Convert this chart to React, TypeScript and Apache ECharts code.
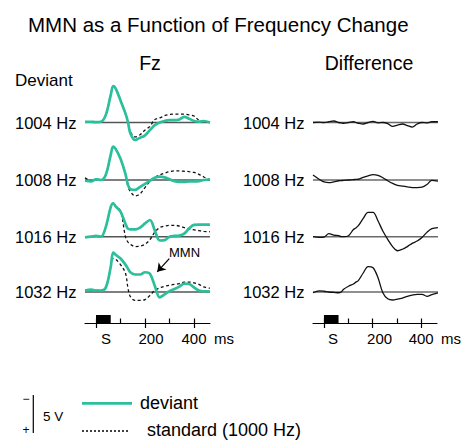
import React, { useEffect, useRef } from "react";
import * as echarts from "echarts";

// ---------- data (µV; negative plotted upward) ----------
const TIME = [-45, -20, 0, 20, 40, 60, 70, 80, 100, 120, 130, 140, 160, 180, 200, 220, 240, 260, 280, 300, 320, 340, 360, 380, 400, 420, 440, 465];

const ROW_LABELS = ["1004 Hz", "1008 Hz", "1016 Hz", "1032 Hz"];

const dev1004 = [-0.1, -0.1, -0.05, -0.1, -1.0, -3.6, -4.8, -4.5, -2.9, -1.2, -0.1, 1.4, 2.3, 2.0, 1.7, 1.0, 0.35, 0, -0.2, -0.3, -0.3, -0.4, -0.75, -0.5, -0.2, -0.1, -0.2, 0];
const std1004 = [-0.1, -0.1, -0.05, -0.1, -1.0, -3.6, -4.8, -4.5, -2.9, -1.2, -0.1, 1.2, 1.9, 1.6, 1.0, 0.5, -0.4, -0.6, -0.9, -1.05, -1.1, -1.1, -1.1, -1.0, -0.85, -0.3, -0.15, 0];

const dev1008 = [0.1, 0.2, -0.1, 0.0, -0.7, -3.3, -4.4, -4.1, -2.8, -0.8, 0.6, 1.2, 1.3, 0.9, 0.5, 0.1, -0.3, -0.45, -0.35, -0.1, 0.15, 0.25, 0.25, 0.2, 0.2, 0.15, 0.0, -0.1];
const std1008 = [-0.3, 0.1, -0.1, 0.0, -0.7, -3.3, -4.4, -4.1, -2.8, -0.8, 0.8, 1.5, 2.1, 1.8, 1.0, 0.2, -0.35, -0.66, -0.9, -1.1, -1.2, -1.2, -1.15, -1.1, -1.0, -0.75, -0.4, 0];

const dev1016 = [0.1, 0.0, -0.1, 0.0, -1.3, -3.9, -4.4, -4.0, -3.3, -1.7, -1.05, -0.96, -0.96, -1.2, -1.75, -2.2, -0.8, 0.5, 0.45, 0.0, -0.1, -0.15, -0.4, -1.1, -1.55, -1.6, -1.6, -1.6];
const std1016 = [0.1, 0.0, -0.1, 0.0, -1.3, -3.9, -4.4, -4.0, -3.4, 0.0, 0.7, 1.0, 1.3, 1.25, 1.0, 0.4, -0.6, -1.2, -1.4, -1.5, -1.5, -1.4, -1.2, -1.0, -0.9, -0.8, -0.7, -0.65];

const dev1032 = [-0.2, -0.3, -0.2, -0.2, -0.6, -3.3, -5.2, -4.9, -4.4, -3.6, -3.1, -2.6, -2.3, -2.3, -2.6, -2.4, -0.8, 0.7, 0.3, -0.1, -0.4, -0.7, -1.1, -1.05, -0.6, -0.2, -0.1, -0.1];
const std1032 = [-0.2, -0.3, -0.2, -0.2, -0.6, -3.4, -4.4, -4.3, -3.6, -2.5, -0.6, 0.6, 1.1, 1.1, 1.0, 0.45, -0.2, -0.55, -0.75, -0.9, -1.0, -1.1, -1.3, -1.3, -1.2, -1.0, -0.66, -0.5];

const diff1004 = [0, -0.05, 0, -0.1, -0.2, 0, 0.05, 0.1, 0, -0.1, 0, 0.1, 0.2, 0, -0.15, 0.05, 0, 0.15, 0.5, 0.35, 0.2, 0.4, 0.6, 0.2, 0.0, 0.05, -0.1, -0.1];
const diff1008 = [-0.65, -0.1, 0.25, 0.35, 0.25, 0.1, 0.08, 0.05, 0, -0.05, -0.08, -0.1, -0.35, -0.55, -0.7, -0.6, -0.3, 0.1, 0.45, 0.7, 0.8, 0.9, 1.0, 1.0, 0.95, 0.6, 0.05, 0.15];
const diff1016 = [0, 0.1, 0.05, -0.4, -0.2, -0.15, 0.0, 0.0, -0.13, -0.95, -1.15, -1.45, -2.4, -3.2, -3.2, -2.1, -0.75, 0.35, 1.3, 1.85, 1.65, 1.3, 0.88, 0.57, 0.1, -0.57, -1.05, -1.2];
const diff1032 = [0.1, -0.15, -0.1, 0, 0.05, 0.1, 0, -0.35, -0.75, -1.05, -1.3, -1.5, -2.5, -3.35, -3.2, -1.9, 0.1, 0.9, 1.05, 0.95, 0.8, 0.57, 0.4, 0.3, 0.3, 0.57, 0.35, 0.1];

const DEVIANT = [dev1004, dev1008, dev1016, dev1032];
const STANDARD = [std1004, std1008, std1016, std1032];
const DIFFERENCE = [diff1004, diff1008, diff1016, diff1032];

const MAJOR_TICKS = [0, 200, 400];
const ALL_TICKS = [0, 100, 200, 300, 400];
const STIMULUS = [0, 60]; // ms
const SCALE_UV = 5;
const MMN_ARROW_FROM = [299, -4.4];
const MMN_ARROW_TO = [250, -2.65];

// ---------- layout ----------
const W = 462;
const H = 440;
const FONT = "'Liberation Sans', Arial, Helvetica, sans-serif";
const T_MIN = -45;
const T_MAX = 465;
const PX_PER_MS = 0.245;
const PX_PER_UV = 7.6;
const Y_MIN = -6;
const Y_MAX = 4;
const ROW_BASE = [122.5, 180, 236.7, 292];
const PANEL_X0 = [85, 313];
const AXIS_Y = 323;
const GREEN = "#2cbf9b";

function buildOption() {
  const grids: any[] = [];
  const xAxes: any[] = [];
  const yAxes: any[] = [];
  const series: any[] = [];
  const plotW = (T_MAX - T_MIN) * PX_PER_MS;
  const plotH = (Y_MAX - Y_MIN) * PX_PER_UV;

  const toPairs = (arr: number[]) => TIME.map((t, k) => [t, arr[k]]);

  for (let p = 0; p < 2; p++) {
    for (let r = 0; r < 4; r++) {
      const gi = grids.length;
      grids.push({ left: PANEL_X0[p], top: ROW_BASE[r] + Y_MIN * PX_PER_UV, width: plotW, height: plotH });
      xAxes.push({ gridIndex: gi, type: "value", min: T_MIN, max: T_MAX, show: false });
      yAxes.push({ gridIndex: gi, type: "value", min: Y_MIN, max: Y_MAX, inverse: true, show: false });
      series.push({
        type: "line", xAxisIndex: gi, yAxisIndex: gi, silent: true, symbol: "none",
        data: [[T_MIN, 0], [T_MAX, 0]],
        lineStyle: { color: p === 0 ? "#555" : "#6a6a6a", width: 1.6 },
      });
      if (p === 0) {
        series.push({
          type: "line", xAxisIndex: gi, yAxisIndex: gi, silent: true, symbol: "none", smooth: 0.35,
          data: toPairs(STANDARD[r]),
          lineStyle: { color: "#111", width: 1.3, type: [3, 2.5] },
          z: 3,
        });
        const dev: any = {
          type: "line", xAxisIndex: gi, yAxisIndex: gi, silent: true, symbol: "none", smooth: 0.35,
          data: toPairs(DEVIANT[r]),
          lineStyle: { color: GREEN, width: 2.7 },
          z: 4,
        };
        if (r === 3) {
          dev.markLine = {
            silent: true, symbol: ["none", "arrow"], symbolSize: 8,
            label: { show: false },
            lineStyle: { color: "#000", width: 1.2, type: "solid" },
            data: [[{ coord: MMN_ARROW_FROM }, { coord: MMN_ARROW_TO }]],
          };
        }
        series.push(dev);
      } else {
        series.push({
          type: "line", xAxisIndex: gi, yAxisIndex: gi, silent: true, symbol: "none", smooth: 0.35,
          data: toPairs(DIFFERENCE[r]),
          lineStyle: { color: "#111", width: 1.3 },
          z: 4,
        });
      }
    }
  }

  // time axes
  const labelPad = [[20, 12], [18, 14]];
  for (let p = 0; p < 2; p++) {
    const gi = grids.length;
    grids.push({ left: PANEL_X0[p], top: AXIS_Y - 8, width: plotW, height: 8 });
    const xa = xAxes.length;
    xAxes.push({
      gridIndex: gi, type: "value", min: T_MIN, max: T_MAX, position: "bottom",
      splitLine: { show: false },
      axisLine: { show: true, lineStyle: { color: "#000", width: 1.2 } },
      axisTick: { show: true, customValues: MAJOR_TICKS, length: 5, inside: false, lineStyle: { color: "#000", width: 1.2 } },
      axisLabel: {
        show: true, customValues: MAJOR_TICKS, margin: 8, color: "#000", fontSize: 15, fontFamily: FONT,
        formatter: (v: number) => (v === 0 ? "{s|S}" : v === 200 ? "{n|200}" : String(v)),
        rich: {
          s: { padding: [0, 0, 0, labelPad[p][0]], fontSize: 15, fontFamily: FONT, color: "#000" },
          n: { padding: [0, 0, 0, labelPad[p][1]], fontSize: 15, fontFamily: FONT, color: "#000" },
        },
      },
      name: "ms", nameLocation: "end", nameGap: 4,
      nameTextStyle: { color: "#000", fontSize: 15, fontFamily: FONT, align: "left", verticalAlign: "top", padding: [8, 0, 0, 0] },
    });
    xAxes.push({
      gridIndex: gi, type: "value", min: T_MIN, max: T_MAX, position: "bottom",
      splitLine: { show: false },
      axisLine: { show: false },
      axisTick: { show: true, customValues: ALL_TICKS, length: 4.5, inside: true, lineStyle: { color: "#000", width: 1.2 } },
      axisLabel: { show: false },
    });
    const ya = yAxes.length;
    yAxes.push({ gridIndex: gi, type: "value", min: 0, max: 1, show: false });
    series.push({
      type: "line", xAxisIndex: xa, yAxisIndex: ya, silent: true, symbol: "none",
      data: [[T_MIN, 0]], lineStyle: { opacity: 0 },
      markArea: {
        silent: true, itemStyle: { color: "#000" },
        data: [[{ xAxis: STIMULUS[0], yAxis: 0 }, { xAxis: STIMULUS[1], yAxis: 1 }]],
      },
    });
  }

  const txt = (text: string, x: number, y: number, size: number, align = "left") => ({
    type: "text", x, y, silent: true,
    style: { text, fill: "#000", fontSize: size, fontFamily: FONT, align, verticalAlign: "middle" },
  });

  const scaleLen = SCALE_UV * PX_PER_UV;
  const graphic: any[] = [
    txt("MMN as a Function of Frequency Change", 28, 24.5, 20.5),
    txt("Fz", 150, 62.5, 19.5, "center"),
    txt("Difference", 369, 62.5, 19.5, "center"),
    txt("Deviant", 15, 80, 17),
    txt("MMN", 184.5, 252.5, 13, "center"),
    txt("deviant", 140, 402.5, 18),
    txt("standard (1000 Hz)", 147, 429.5, 18),
    txt(SCALE_UV + " V", 43, 416.5, 13.5),
    txt("−", 26, 399, 12, "center"),
    txt("+", 26, 430, 12, "center"),
    { type: "line", silent: true, shape: { x1: 33.3, y1: 395, x2: 33.3, y2: 395 + scaleLen }, style: { stroke: "#000", lineWidth: 1.2 } },
    { type: "line", silent: true, shape: { x1: 82, y1: 403.3, x2: 132, y2: 403.3 }, style: { stroke: GREEN, lineWidth: 2.8 } },
    { type: "line", silent: true, shape: { x1: 82, y1: 431, x2: 128, y2: 431 }, style: { stroke: "#000", lineWidth: 1.4, lineDash: [2, 2] } },
  ];
  ROW_LABELS.forEach((lab, r) => {
    graphic.push(txt(lab, 15, ROW_BASE[r], 16.5));
    graphic.push(txt(lab, 243, ROW_BASE[r], 16.5));
  });

  return {
    animation: false,
    backgroundColor: "#fff",
    grid: grids,
    xAxis: xAxes,
    yAxis: yAxes,
    series,
    graphic,
  };
}

export default function App() {
  const ref = useRef<HTMLDivElement>(null);
  useEffect(() => {
    if (!ref.current) return;
    const chart = echarts.init(ref.current, undefined, { renderer: "svg" });
    chart.setOption(buildOption() as any);
    return () => chart.dispose();
  }, []);
  return <div ref={ref} style={{ position: "fixed", left: 0, top: 0, width: W, height: H }} />;
}
